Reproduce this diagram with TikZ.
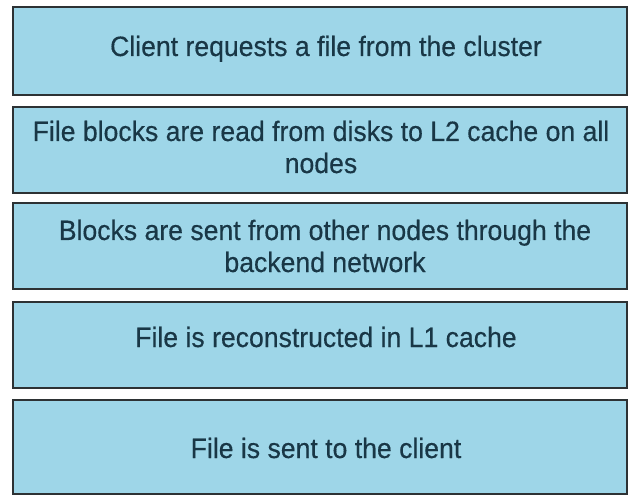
\documentclass[tikz,border=0pt]{standalone}
\usepackage{fontspec}
\setmainfont{Liberation Sans}[FakeStretch=0.95,FakeBold=0.4]
\definecolor{boxfill}{RGB}{158,214,232}
\definecolor{boxline}{RGB}{45,50,52}
\definecolor{txtcol}{RGB}{25,55,70}
\tikzset{
  stepbox/.style={draw=boxline, fill=boxfill, line width=1.8bp, inner sep=0pt, minimum width=614bp},
  steptext/.style={text=txtcol, font=\fontsize{28bp}{32bp}\selectfont, align=center, inner sep=0pt, anchor=base}
}
\begin{document}
\begin{tikzpicture}[x=1bp,y=-1bp]
\useasboundingbox[fill=white] (0,0) rectangle (629,496);
\node[stepbox, minimum height=88bp] (b1) at (320,51) {};
\node[stepbox, minimum height=86bp] (b2) at (320,150) {};
\node[stepbox, minimum height=86bp] (b3) at (320,246) {};
\node[stepbox, minimum height=86bp] (b4) at (320,345) {};
\node[stepbox, minimum height=94bp] (b5) at (320,447) {};
\node[steptext] (t1) at (326,56) {Client requests a file from the cluster};
\node[steptext] (t2) at (321,173) {File blocks are read from disks to L2 cache on all\\nodes};
\node[steptext] (t3) at (325,272) {Blocks are sent from other nodes through the\\backend network};
\node[steptext] (t4) at (326,347) {File is reconstructed in L1 cache};
\node[steptext] (t5) at (326,458) {File is sent to the client};
\end{tikzpicture}
\end{document}
